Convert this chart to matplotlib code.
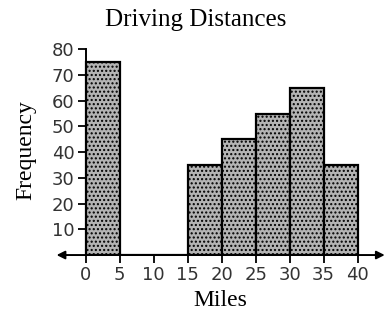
import matplotlib

matplotlib.use("Agg")
import matplotlib.pyplot as plt

# histogram data
bin_lefts = [0, 5, 10, 15, 20, 25, 30, 35]
freq = [75, 0, 0, 35, 45, 55, 65, 35]
bin_width = 5
x_ticks = [0, 5, 10, 15, 20, 25, 30, 35, 40]
y_ticks = [10, 20, 30, 40, 50, 60, 70, 80]


def main() -> None:
    plt.rcParams["hatch.color"] = "#7a7a7a"
    fig = plt.figure(figsize=(3.89, 3.18), dpi=100)
    ax = fig.add_axes([0.142, 0.198, 0.847, 0.663])

    ax.bar(bin_lefts, freq, width=bin_width, align="edge",
           facecolor="#b4b4b4", edgecolor="black", linewidth=1.6,
           hatch="....", zorder=2)

    ax.set_xlim(-4.5, 44)
    ax.set_ylim(0, 82)

    for s in ("top", "right", "bottom"):
        ax.spines[s].set_visible(False)
    ax.spines["left"].set_position(("data", 0))
    ax.spines["left"].set_bounds(0, 80)
    ax.spines["left"].set_linewidth(1.4)

    # x axis line with arrow heads at both ends
    ax.annotate("", xy=(44, 0), xytext=(-4.3, 0),
                arrowprops=dict(arrowstyle="<|-|>", color="black", lw=1.4,
                                mutation_scale=12, shrinkA=0, shrinkB=0),
                zorder=3, annotation_clip=False)

    ax.set_xticks(x_ticks)
    ax.set_yticks(y_ticks)
    ax.tick_params(axis="both", direction="out", length=6, width=1.3,
                   labelsize=13, pad=2, labelcolor="#333333")
    for lab in ax.get_xticklabels() + ax.get_yticklabels():
        lab.set_fontfamily("DejaVu Sans")

    title = ax.set_title("Driving Distances", family="Liberation Serif",
                         fontsize=18, pad=13)
    title.set_x(0.425)  # title sits a bit left of the axes centre
    ax.set_xlabel("Miles", family="Liberation Serif", fontsize=17, labelpad=4)
    ax.set_ylabel("Frequency", family="Liberation Serif", fontsize=17,
                  labelpad=11)

    fig.savefig("out.png", dpi=100)
    plt.close(fig)


if __name__ == "__main__":
    main()
